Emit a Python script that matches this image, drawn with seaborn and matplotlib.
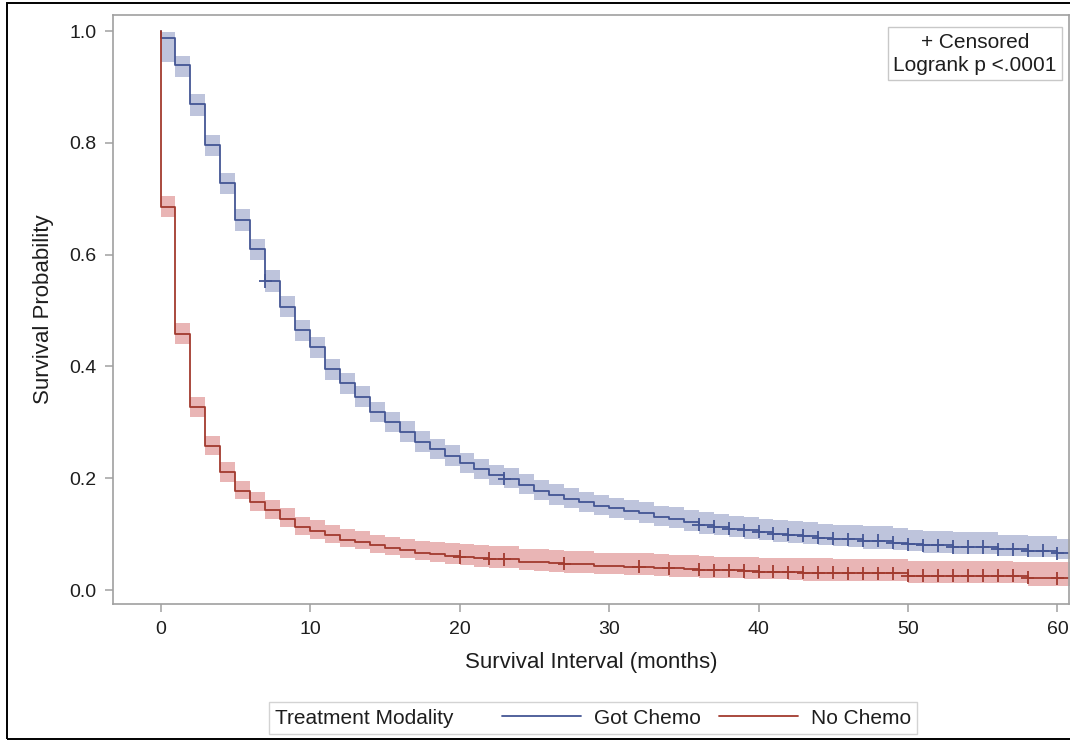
import matplotlib
matplotlib.use("Agg")
import matplotlib.pyplot as plt
from matplotlib.lines import Line2D
from matplotlib.patches import Rectangle
from matplotlib.offsetbox import DrawingArea
import pandas as pd
import seaborn as sns

# monthly Kaplan-Meier estimates (month 61 = beyond the axis edge)
months = list(range(0, 62))

chemo_surv = [0.988, 0.939, 0.869, 0.796, 0.728, 0.662, 0.610, 0.553, 0.507, 0.465,
              0.434, 0.395, 0.370, 0.346, 0.318, 0.300, 0.283, 0.265, 0.252, 0.240,
              0.227, 0.216, 0.205, 0.199, 0.188, 0.178, 0.170, 0.163, 0.157, 0.151,
              0.146, 0.142, 0.137, 0.131, 0.127, 0.122, 0.117, 0.113, 0.110, 0.107,
              0.104, 0.101, 0.099, 0.097, 0.094, 0.092, 0.091, 0.088, 0.088, 0.085,
              0.082, 0.080, 0.080, 0.077, 0.077, 0.077, 0.073, 0.073, 0.070, 0.070,
              0.066, 0.066]
chemo_upper = [0.999, 0.955, 0.888, 0.815, 0.747, 0.681, 0.629, 0.572, 0.526, 0.484,
               0.453, 0.414, 0.389, 0.365, 0.337, 0.319, 0.302, 0.284, 0.271, 0.259,
               0.246, 0.235, 0.224, 0.218, 0.207, 0.197, 0.189, 0.182, 0.176, 0.170,
               0.165, 0.161, 0.157, 0.151, 0.148, 0.143, 0.139, 0.136, 0.133, 0.131,
               0.128, 0.126, 0.124, 0.122, 0.119, 0.117, 0.116, 0.114, 0.114, 0.111,
               0.108, 0.106, 0.106, 0.103, 0.103, 0.103, 0.099, 0.099, 0.096, 0.096,
               0.091, 0.091]
chemo_lower = [0.944, 0.918, 0.849, 0.776, 0.708, 0.642, 0.590, 0.534, 0.488, 0.446,
               0.415, 0.376, 0.351, 0.327, 0.300, 0.282, 0.265, 0.247, 0.235, 0.222,
               0.210, 0.199, 0.188, 0.182, 0.171, 0.161, 0.153, 0.146, 0.140, 0.134,
               0.129, 0.125, 0.120, 0.115, 0.111, 0.106, 0.101, 0.098, 0.095, 0.092,
               0.089, 0.086, 0.084, 0.082, 0.080, 0.078, 0.077, 0.074, 0.074, 0.072,
               0.069, 0.067, 0.067, 0.065, 0.065, 0.065, 0.061, 0.061, 0.059, 0.059,
               0.055, 0.055]

nochemo_surv = [0.686, 0.459, 0.327, 0.258, 0.211, 0.178, 0.158, 0.143, 0.128, 0.112,
                0.106, 0.098, 0.090, 0.086, 0.080, 0.075, 0.071, 0.067, 0.064, 0.061,
                0.059, 0.057, 0.056, 0.055, 0.051, 0.050, 0.048, 0.047, 0.046, 0.043,
                0.043, 0.042, 0.042, 0.040, 0.039, 0.037, 0.036, 0.035, 0.035, 0.034,
                0.033, 0.033, 0.032, 0.031, 0.031, 0.031, 0.030, 0.030, 0.030, 0.030,
                0.026, 0.026, 0.026, 0.026, 0.026, 0.026, 0.026, 0.026, 0.022, 0.022,
                0.021, 0.021]
nochemo_upper = [0.705, 0.477, 0.345, 0.276, 0.229, 0.196, 0.176, 0.161, 0.146, 0.131,
                 0.125, 0.117, 0.109, 0.105, 0.099, 0.095, 0.091, 0.088, 0.086, 0.084,
                 0.082, 0.080, 0.079, 0.078, 0.074, 0.073, 0.071, 0.070, 0.069, 0.067,
                 0.067, 0.066, 0.066, 0.064, 0.063, 0.062, 0.061, 0.060, 0.060, 0.059,
                 0.058, 0.058, 0.057, 0.057, 0.057, 0.056, 0.056, 0.056, 0.055, 0.055,
                 0.052, 0.052, 0.052, 0.052, 0.052, 0.052, 0.052, 0.051, 0.050, 0.050,
                 0.050, 0.050]
nochemo_lower = [0.668, 0.441, 0.310, 0.241, 0.194, 0.162, 0.142, 0.127, 0.113, 0.098,
                 0.092, 0.084, 0.077, 0.073, 0.067, 0.062, 0.058, 0.054, 0.050, 0.046,
                 0.044, 0.042, 0.040, 0.039, 0.035, 0.034, 0.032, 0.031, 0.030, 0.028,
                 0.028, 0.027, 0.027, 0.025, 0.024, 0.023, 0.022, 0.021, 0.021, 0.020,
                 0.019, 0.019, 0.018, 0.017, 0.017, 0.017, 0.016, 0.016, 0.016, 0.016,
                 0.012, 0.012, 0.012, 0.012, 0.012, 0.012, 0.012, 0.012, 0.008, 0.008,
                 0.007, 0.007]

chemo_censored = [7, 23] + list(range(36, 61))
nochemo_censored = [20, 22, 23, 27, 32, 34] + list(range(36, 59)) + [60]

groups = ["Got Chemo", "No Chemo"]
line_colors = {"Got Chemo": "#445694", "No Chemo": "#A23A2E"}
band_colors = {"Got Chemo": "#6F7EB3", "No Chemo": "#D05B5B"}

# step curves start at S=1 at time 0
curve_rows = []
cens_rows = []
for name, surv, cens in [("Got Chemo", chemo_surv, chemo_censored),
                         ("No Chemo", nochemo_surv, nochemo_censored)]:
    curve_rows.append({"month": 0, "surv": 1.0, "group": name})
    for m, s in zip(months, surv):
        curve_rows.append({"month": m, "surv": s, "group": name})
    for m in cens:
        cens_rows.append({"month": m, "surv": surv[m], "group": name})
curves = pd.DataFrame(curve_rows)
censored = pd.DataFrame(cens_rows)

sns.set_style("white")
plt.rcParams["font.family"] = ["Liberation Sans", "DejaVu Sans"]

fig = plt.figure(figsize=(10.7, 7.4), dpi=100)
ax = fig.add_axes([113 / 1070, 1 - 604 / 740, 956 / 1070, 589 / 740])

ax.fill_between(months, chemo_lower, chemo_upper, step="post",
                color=band_colors["Got Chemo"], alpha=0.45, lw=0)
ax.fill_between(months, nochemo_lower, nochemo_upper, step="post",
                color=band_colors["No Chemo"], alpha=0.45, lw=0)

sns.lineplot(data=curves, x="month", y="surv", hue="group", palette=line_colors,
             estimator=None, sort=False, drawstyle="steps-post", lw=1.3,
             legend=False, ax=ax)
sns.scatterplot(data=censored, x="month", y="surv", hue="group", palette=line_colors,
                marker="+", s=90, linewidth=1.3, legend=False, ax=ax, zorder=5)

ax.set_xlim(-3.18, 60.77)
ax.set_ylim(-0.025, 1.029)
ax.set_xticks([0, 10, 20, 30, 40, 50, 60])
ax.set_yticks([0.0, 0.2, 0.4, 0.6, 0.8, 1.0])
ax.set_yticklabels(["0.0", "0.2", "0.4", "0.6", "0.8", "1.0"])

spine_gray = "#a0a0a0"
for sp in ax.spines.values():
    sp.set_color(spine_gray)
    sp.set_linewidth(1.2)
ax.tick_params(axis="both", direction="out", length=6, width=1.1, color=spine_gray,
               labelsize=14, labelcolor="#1e1e1e", pad=6)
ax.tick_params(axis="x", bottom=True)
ax.tick_params(axis="y", left=True)

ax.set_xlabel("Survival Interval (months)", fontsize=16, color="#1e1e1e", labelpad=10)
ax.set_ylabel("Survival Probability", fontsize=16, color="#1e1e1e", labelpad=11)

ax.text(0.9017, 0.934, "+ Censored\nLogrank p <.0001", transform=ax.transAxes,
        ha="center", va="center", multialignment="center", fontsize=15,
        color="#1e1e1e", linespacing=1.3,
        bbox=dict(boxstyle="square,pad=0.25", fc="white", ec="#c8c8c8", lw=1.0))

handles = [Line2D([], [], color=line_colors[g], lw=1.3) for g in groups]
leg = fig.legend(handles, groups, title="Treatment Modality", ncol=2,
                 loc="center", bbox_to_anchor=(593 / 1070, 1 - 718 / 740),
                 fontsize=15, title_fontsize=15, frameon=True, fancybox=False,
                 edgecolor="#c8c8c8", handlelength=3.8, handletextpad=0.6,
                 columnspacing=0.9, borderpad=0.3, labelcolor="#1e1e1e")
leg.get_frame().set_linewidth(1.0)
leg.get_title().set_color("#1e1e1e")
# put the legend title on the same row as the entries
box = leg.get_children()[0]
title_box, entries = box.get_children()[0], box.get_children()[1]
box._children = [entries]
entries._children = [title_box, DrawingArea(8, 1)] + entries.get_children()

fig.add_artist(Rectangle((7 / 1070, 1.5 / 740), 1.2, 735.5 / 740, fill=False,
                         ec="black", lw=1.4, transform=fig.transFigure))

fig.savefig("out.png", dpi=100)
